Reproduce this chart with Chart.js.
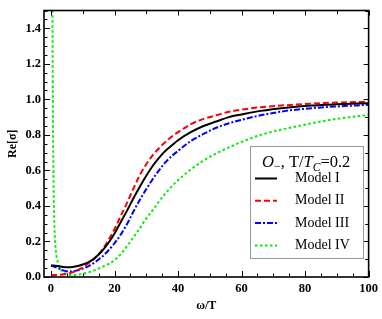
<!DOCTYPE html>
<html>
<head>
<meta charset="utf-8">
<script src="https://cdn.jsdelivr.net/npm/chart.js@4.4.1/dist/chart.umd.min.js"></script>
<style>
  html, body { margin: 0; padding: 0; background: #fff; }
  #wrap { width: 382px; height: 319px; }
</style>
</head>
<body>
<div id="wrap"><canvas id="conductivity"></canvas></div>
<script>
// omega/T grid shared by models I-III
const omega = [0, 2, 4, 6, 8, 10, 12, 14, 16, 18, 20, 22, 24, 26, 28, 30, 32, 34, 36, 38, 40, 44, 48, 52, 56, 60, 66, 74, 82, 90, 100];
const modelI = [0.065, 0.062, 0.056, 0.055, 0.06, 0.07, 0.085, 0.11, 0.145, 0.19, 0.245, 0.31, 0.375, 0.445, 0.51, 0.57, 0.625, 0.67, 0.71, 0.74, 0.77, 0.815, 0.85, 0.875, 0.9, 0.915, 0.935, 0.953, 0.965, 0.972, 0.978];
const modelII = [0.01, 0.012, 0.015, 0.022, 0.035, 0.055, 0.08, 0.11, 0.15, 0.205, 0.27, 0.345, 0.42, 0.5, 0.575, 0.635, 0.685, 0.725, 0.76, 0.79, 0.815, 0.86, 0.89, 0.91, 0.93, 0.942, 0.956, 0.967, 0.976, 0.982, 0.987];
const modelIII = [0.065, 0.052, 0.036, 0.031, 0.036, 0.047, 0.063, 0.085, 0.113, 0.148, 0.19, 0.24, 0.3, 0.37, 0.435, 0.495, 0.55, 0.6, 0.645, 0.68, 0.71, 0.765, 0.805, 0.84, 0.865, 0.885, 0.91, 0.935, 0.95, 0.96, 0.969];

// model IV has a spike near omega = 0, so it gets its own grid
const omegaIV = [0.3, 0.4, 0.5, 0.6, 0.75, 0.9, 1.1, 1.4, 1.8, 2.3, 3, 4, 5, 6.5, 8, 10, 12, 14, 16, 18, 20, 22, 24, 26, 28, 30, 32, 34, 36, 38, 40, 44, 48, 52, 56, 60, 66, 74, 82, 90, 100];
const modelIV = [3.5, 2.1, 1.36, 0.95, 0.62, 0.43, 0.28, 0.17, 0.11, 0.075, 0.045, 0.025, 0.016, 0.011, 0.012, 0.018, 0.027, 0.04, 0.055, 0.072, 0.095, 0.13, 0.175, 0.225, 0.275, 0.33, 0.375, 0.425, 0.47, 0.51, 0.545, 0.605, 0.655, 0.695, 0.73, 0.76, 0.8, 0.835, 0.865, 0.89, 0.912];

const labels = ["Model I", "Model II", "Model III", "Model IV"];
const xTicks = [0, 20, 40, 60, 80, 100];
const yTicks = [0, 0.2, 0.4, 0.6, 0.8, 1.0, 1.2, 1.4];

const pts = (xs, ys) => xs.map((x, i) => ({ x: x, y: ys[i] }));
const serif = "'Liberation Serif', 'DejaVu Serif', serif";

// frame with inward ticks on all four sides, Mathematica style
const framePlugin = {
  id: "frame",
  afterDatasetsDraw(chart) {
    const { ctx, chartArea: a, scales } = chart;
    const xs = scales.x, ys = scales.y;
    ctx.save();
    ctx.strokeStyle = "#000";
    ctx.lineWidth = 1;
    const tick = (x1, y1, x2, y2) => {
      ctx.beginPath();
      ctx.moveTo(x1, y1);
      ctx.lineTo(x2, y2);
      ctx.stroke();
    };
    // bottom: major every 20, minor every 5; top: every 10
    for (let v = 0; v <= 100; v += 5) {
      const px = Math.round(xs.getPixelForValue(v)) + 0.5;
      const major = v % 20 === 0;
      tick(px, a.bottom, px, a.bottom - (major ? 6 : 3.5));
      if (v % 10 === 0) tick(px, a.top, px, a.top + (major ? 5 : 3.5));
    }
    // left: major every 0.2, minor every 0.05; right: every 0.1
    for (let k = 0; k <= 30; k++) {
      const v = k * 0.05;
      const py = Math.round(ys.getPixelForValue(v)) + 0.5;
      const major = k % 4 === 0;
      tick(a.left, py, a.left + (major ? 6 : 3.5), py);
      if (k % 2 === 0) tick(a.right, py, a.right - (major ? 5 : 3.5), py);
    }
    ctx.lineWidth = 1.6;
    ctx.strokeRect(a.left, a.top, a.right - a.left, a.bottom - a.top);
    ctx.restore();
  },
};

// boxed legend in the lower right of the plot
const legendPlugin = {
  id: "boxLegend",
  afterDraw(chart) {
    const ctx = chart.ctx;
    const bx = 250, by = 146, bw = 113, bh = 112;
    ctx.save();
    ctx.fillStyle = "#fff";
    ctx.fillRect(bx, by, bw, bh);
    ctx.strokeStyle = "#999";
    ctx.lineWidth = 1;
    ctx.strokeRect(bx + 0.5, by + 0.5, bw, bh);

    // title: O_-, T/T_C=0.2
    ctx.fillStyle = "#000";
    ctx.textBaseline = "alphabetic";
    let x = 262, y = 167;
    const put = (txt, font, dy) => {
      ctx.font = font;
      ctx.fillText(txt, x, y + (dy || 0));
      x += ctx.measureText(txt).width;
    };
    put("O", "italic 16.5px " + serif);
    put("\u2212", "12px " + serif, 3);
    put(", T/", "16.5px " + serif);
    put("T", "italic 16.5px " + serif);
    put("C", "italic 11.5px " + serif, 3.5);
    put("=0.2", "16.5px " + serif);

    chart.data.datasets.forEach((ds, i) => {
      const ly = 178.5 + i * 22.3;
      ctx.strokeStyle = ds.borderColor;
      ctx.lineWidth = 2;
      ctx.setLineDash(ds.borderDash || []);
      ctx.beginPath();
      ctx.moveTo(255, ly);
      ctx.lineTo(277, ly);
      ctx.stroke();
      ctx.setLineDash([]);
      ctx.font = "14px " + serif;
      ctx.textBaseline = "middle";
      ctx.fillStyle = "#000";
      ctx.fillText(ds.label, 295, ly);
    });
    ctx.restore();
  },
};

const ctx = document.getElementById("conductivity");

new Chart(ctx, {
  type: "line",
  data: {
    datasets: [
      { label: labels[0], data: pts(omega, modelI), borderColor: "#000000", borderWidth: 2 },
      { label: labels[1], data: pts(omega, modelII), borderColor: "#ff0000", borderWidth: 2, borderDash: [6, 3] },
      { label: labels[2], data: pts(omega, modelIII), borderColor: "#0000ff", borderWidth: 2, borderDash: [6, 2, 2, 2] },
      { label: labels[3], data: pts(omegaIV, modelIV), borderColor: "#00ee00", borderWidth: 2, borderDash: [2.5, 2.5] },
    ],
  },
  options: {
    responsive: true,
    maintainAspectRatio: false,
    animation: false,
    layout: { padding: { left: 0, top: 2, right: 10, bottom: 0 } },
    elements: {
      point: { radius: 0 },
      line: { cubicInterpolationMode: "monotone", fill: false },
    },
    plugins: {
      legend: { display: false },
      tooltip: { enabled: false },
    },
    scales: {
      x: {
        type: "linear",
        min: -2.2,
        max: 100,
        grid: { display: false, drawTicks: false },
        border: { display: false },
        afterBuildTicks: (s) => { s.ticks = xTicks.map((v) => ({ value: v })); },
        afterFit: (s) => { s.height = 42; },
        ticks: {
          padding: 4,
          color: "#000",
          maxRotation: 0,
          font: { family: serif, size: 12.5, weight: "bold" },
          callback: (v) => String(v),
        },
        title: {
          display: true,
          text: "\u03c9/T",
          color: "#000",
          padding: { top: 0, bottom: 6 },
          font: { family: serif, size: 12, weight: "bold" },
        },
      },
      y: {
        type: "linear",
        min: 0,
        max: 1.5,
        grid: { display: false, drawTicks: false },
        border: { display: false },
        afterBuildTicks: (s) => { s.ticks = yTicks.map((v) => ({ value: v })); },
        afterFit: (s) => { s.width = 44; },
        ticks: {
          padding: 3,
          color: "#000",
          font: { family: serif, size: 12.5, weight: "bold" },
          callback: (v) => Number(v).toFixed(1),
        },
        title: {
          display: true,
          text: "Re[\u03c3]",
          color: "#000",
          padding: { top: 6, bottom: 0 },
          font: { family: serif, size: 12, weight: "bold" },
        },
      },
    },
  },
  plugins: [framePlugin, legendPlugin],
});
</script>
</body>
</html>
